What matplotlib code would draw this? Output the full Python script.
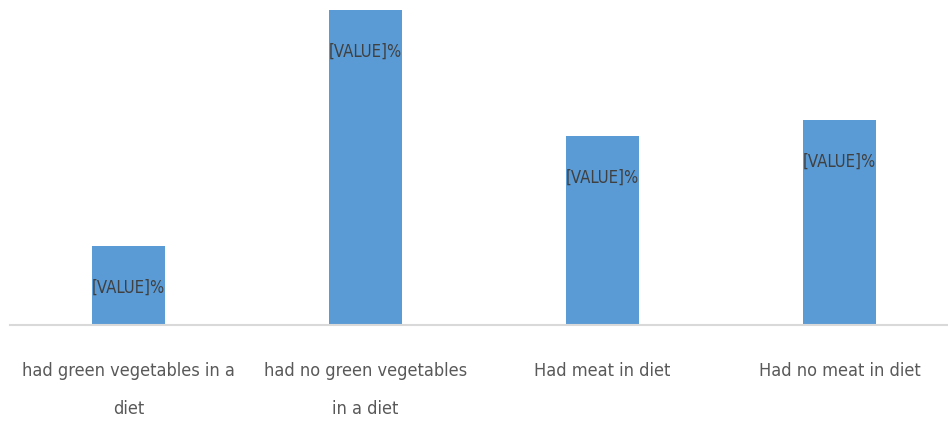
import matplotlib
matplotlib.use("Agg")
import matplotlib.pyplot as plt

categories = ["had green vegetables in a\ndiet", "had no green vegetables\nin a diet",
              "Had meat in diet", "Had no meat in diet"]
values = [20, 80, 48, 52]
value_labels = ["[VALUE]%", "[VALUE]%", "[VALUE]%", "[VALUE]%"]

plt.rcParams['font.family'] = ['DejaVu Sans']
plt.rcParams['font.stretch'] = 'condensed'

fig = plt.figure(figsize=(9.48, 4.29), dpi=100)
ax = fig.add_axes([10 / 948, 104 / 429, 938 / 948, 315 / 429])

x = range(len(values))
ax.bar(x, values, width=0.31, color='#5b9bd5', zorder=2)

for i, (v, lab) in enumerate(zip(values, value_labels)):
    ax.annotate(lab, (i, v), xytext=(0, -30), textcoords='offset points',
                ha='center', va='center', fontsize=12, color='#404040')

ax.set_xlim(-0.5, -0.5 + 938 / 237)
ax.set_ylim(0, 80)
ax.set_xticks(list(x))
ax.set_xticklabels(categories, fontsize=13, color='#595959', linespacing=2.4)
ax.tick_params(axis='x', length=0, pad=27)
ax.set_yticks([])
for s in ['top', 'right', 'left']:
    ax.spines[s].set_visible(False)
ax.spines['bottom'].set_color('#d9d9d9')
ax.spines['bottom'].set_linewidth(1.5)

fig.savefig("out.png", dpi=100)
